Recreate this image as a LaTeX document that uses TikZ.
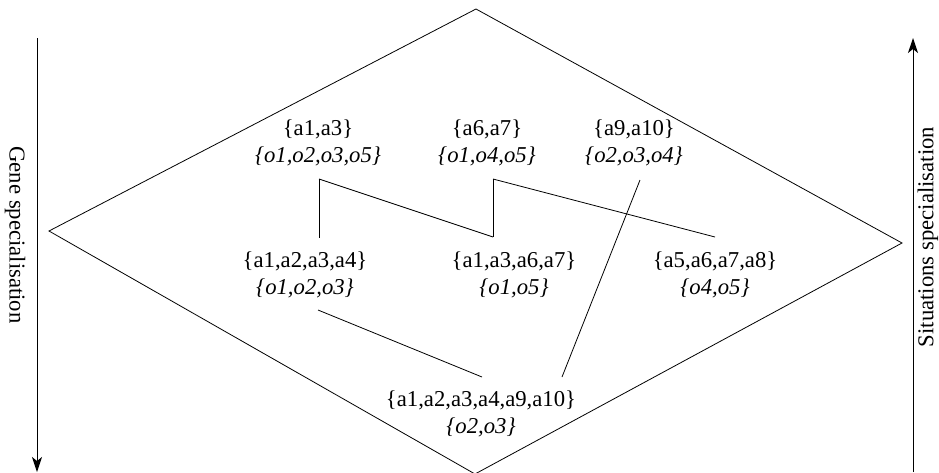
\documentclass[tikz,border=0pt]{standalone}
\usepackage{fontspec}
\setmainfont{Liberation Serif}
\usetikzlibrary{arrows.meta}
\begin{document}
\begin{tikzpicture}[x=1pt,y=-1pt,
  concept/.style={align=center,inner sep=0pt,font=\fontsize{22.7}{27}\selectfont},
  edge/.style={draw=black,line width=0.8pt},
  axis/.style={draw=black,line width=1pt,-{Stealth[length=15pt,width=10pt,inset=4pt]}},
  axislabel/.style={font=\fontsize{22.7}{27}\selectfont,inner sep=0pt}]
\useasboundingbox (0,0) rectangle (939,472);
% lattice border
\coordinate (top) at (476,9);
\coordinate (lft) at (49,231);
\coordinate (bot) at (475,474);
\coordinate (rgt) at (902,243);
\draw[edge] (top) -- (lft) -- (bot) -- (rgt) -- cycle;
% axes
\coordinate (la) at (37,38);
\coordinate (lb) at (37,472);
\coordinate (ra) at (913,472);
\coordinate (rb) at (913,38);
\draw[axis] (la) -- (lb);
\draw[axis] (ra) -- (rb);
\node[axislabel,rotate=-90] (gl) at (15,235) {Gene specialisation};
\node[axislabel,rotate=90] (sl) at (928,237) {Situations specialisation};
% concepts
\node[concept] (n1) at (318,143) {\{a1,a3\}\\\textit{\{o1,o2,o3,o5\}}};
\node[concept] (n2) at (487,143) {\{a6,a7\}\\\textit{\{o1,o4,o5\}}};
\node[concept] (n3) at (634,143) {\{a9,a10\}\\\textit{\{o2,o3,o4\}}};
\node[concept] (n4) at (305,275) {\{a1,a2,a3,a4\}\\\textit{\{o1,o2,o3\}}};
\node[concept] (n5) at (514,275) {\{a1,a3,a6,a7\}\\\textit{\{o1,o5\}}};
\node[concept] (n6) at (715,275) {\{a5,a6,a7,a8\}\\\textit{\{o4,o5\}}};
\node[concept] (n7) at (481,414) {\{a1,a2,a3,a4,a9,a10\}\\\textit{\{o2,o3\}}};
% edge end points
\coordinate (n1b) at (319,179);
\coordinate (n2b) at (493,179);
\coordinate (n3b) at (640,180);
\coordinate (n4t) at (319,238);
\coordinate (n5t) at (493,237);
\coordinate (n6t) at (715,237);
\coordinate (n4b) at (318,310);
\coordinate (n7t) at (482,377);
\coordinate (n7u) at (562,377);
\draw[edge] (n1b) -- (n4t);
\draw[edge] (n1b) -- (n5t);
\draw[edge] (n2b) -- (n5t);
\draw[edge] (n2b) -- (n6t);
\draw[edge] (n3b) -- (n7u);
\draw[edge] (n4b) -- (n7t);
\end{tikzpicture}
\end{document}
